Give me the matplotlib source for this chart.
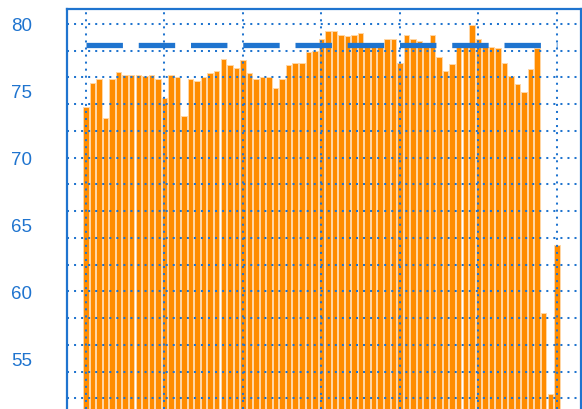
"""Monthly bar chart with a dashed target line, blue frame and dotted grid.

Output: out.png
"""

import matplotlib

matplotlib.use("Agg")
import matplotlib.pyplot as plt
from matplotlib.ticker import FixedLocator, NullFormatter

BLUE = "#1f74cf"
ORANGE = "#ff8c00"

# one bar per month, 73 months
MONTHLY_VALUES = [
    73.8, 75.6, 75.9, 73.0, 75.9, 76.4, 76.2, 76.2, 76.2, 76.1, 76.2, 75.9,
    74.5, 76.2, 76.0, 73.1, 75.9, 75.7, 76.0, 76.3, 76.5, 77.4, 76.9, 76.7,
    77.3, 76.3, 75.9, 76.0, 76.0, 75.2, 75.9, 76.9, 77.1, 77.1, 77.9, 78.0,
    78.9, 79.5, 79.5, 79.2, 79.1, 79.2, 79.3, 78.4, 78.4, 78.4, 78.9, 78.9,
    77.1, 79.2, 78.9, 78.7, 78.5, 79.2, 77.5, 76.5, 77.0, 78.3, 78.3, 79.9,
    78.9, 78.3, 78.3, 78.2, 77.1, 76.1, 75.5, 74.9, 76.6, 78.2, 58.4, 52.3,
    63.5,
]
TARGET = 78.4
Y_LABELS = [55, 60, 65, 70, 75, 80]
Y_GRID = list(range(52, 81, 2))
YEAR_STARTS = [0, 12, 24, 36, 48, 60, 72]


def main() -> None:
    plt.rcParams["font.family"] = ["Liberation Sans", "DejaVu Sans"]
    fig = plt.figure(figsize=(5.82, 4.10), dpi=100)
    ax = fig.add_axes([67 / 582, 0.0, 514 / 582, 1 - 10 / 410])

    x = list(range(len(MONTHLY_VALUES)))
    ax.bar(x, MONTHLY_VALUES, width=0.84, color=ORANGE,
           edgecolor="#ffd7a6", linewidth=0.7, zorder=2)
    ax.plot([x[0], x[-1]], [TARGET, TARGET], color=BLUE, lw=3.8,
            dashes=(6.9, 3.0), solid_capstyle="butt", zorder=4)

    ax.set_xlim(-2.9, 75.7)
    ax.set_ylim(51.2, 81.12)

    # grid on every even value, labels only on multiples of five
    ax.yaxis.remove_overlapping_locs = False
    ax.yaxis.set_major_locator(FixedLocator(Y_LABELS))
    ax.yaxis.set_minor_locator(FixedLocator(Y_GRID))
    ax.yaxis.set_minor_formatter(NullFormatter())
    ax.xaxis.set_major_locator(FixedLocator(YEAR_STARTS))
    ax.set_xticklabels([])

    grid_kw = dict(color=BLUE, lw=1.45, dashes=(1, 2.5), zorder=3)
    ax.grid(False)
    ax.grid(True, which="minor", axis="y", **grid_kw)
    ax.grid(True, which="major", axis="x", **grid_kw)
    ax.set_axisbelow(False)

    ax.tick_params(axis="y", which="both", length=0, pad=25,
                   labelsize=13.5, labelcolor=BLUE)
    ax.tick_params(axis="x", length=0)

    for side in ("left", "top", "right"):
        ax.spines[side].set_color(BLUE)
        ax.spines[side].set_linewidth(1.6)
    ax.spines["bottom"].set_visible(False)

    fig.savefig("out.png", dpi=100)
    plt.close(fig)


if __name__ == "__main__":
    main()
